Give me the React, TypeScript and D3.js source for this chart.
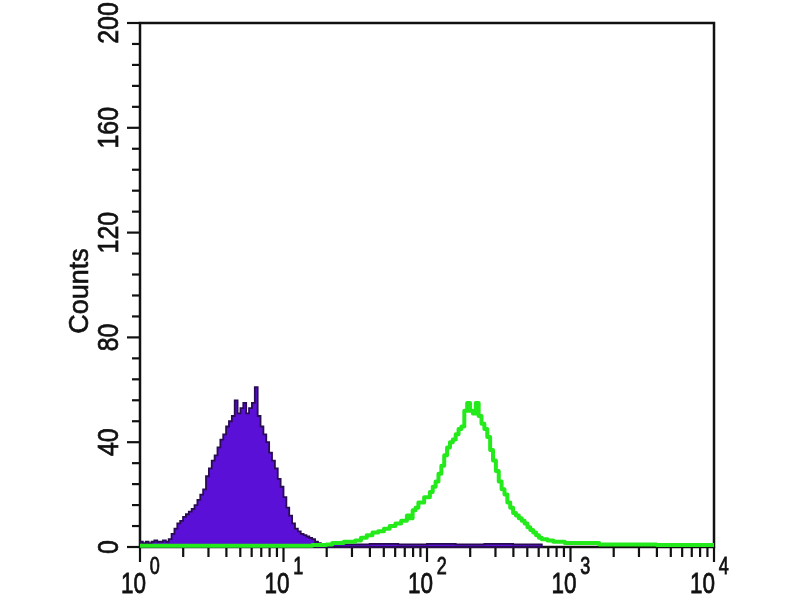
import { useEffect, useRef } from "react";
import * as d3 from "d3";

// fluorescence channel in decades (log10), bin start, with event counts
const controlDecade = [
  0.0, 0.02, 0.04, 0.06, 0.08, 0.1, 0.12, 0.14, 0.16, 0.18, 0.2, 0.22, 0.24,
  0.26, 0.28, 0.3, 0.32, 0.34, 0.36, 0.38, 0.4, 0.42, 0.44, 0.46, 0.48, 0.5,
  0.52, 0.54, 0.56, 0.58, 0.6, 0.62, 0.64, 0.66, 0.68, 0.7, 0.72, 0.74, 0.76,
  0.78, 0.8, 0.82, 0.84, 0.86, 0.88, 0.9, 0.92, 0.94, 0.96, 0.98, 1.0, 1.02,
  1.04, 1.06, 1.08, 1.1, 1.12, 1.14, 1.16, 1.18, 1.2, 1.22, 1.24, 1.26, 1.28,
  1.4, 1.6, 1.8, 2.0, 2.2, 2.4, 2.6, 2.8,
];
const controlCount = [
  2, 1.5, 2, 1.5, 2, 2.5, 2, 2, 2.5, 2, 3, 5, 7, 9, 10, 11.5, 12.5, 13.5, 14.5,
  16, 18, 20, 22, 27, 30, 33, 35, 38, 41, 43, 46, 48, 50, 56, 51, 53, 55, 51,
  53, 55, 61, 50, 46, 43, 40, 36, 33, 30, 26, 23, 19, 15, 12, 9, 7, 6, 5, 4.5,
  4, 3.5, 3, 2, 1.5, 1.2, 1, 1, 1.2, 1, 1.2, 1, 1.2, 1, 0,
];

const stainedDecade = [
  0.0, 0.2, 0.4, 0.6, 0.8, 1.0, 1.2, 1.3, 1.34, 1.38, 1.42, 1.46, 1.5, 1.54,
  1.58, 1.62, 1.66, 1.7, 1.74, 1.78, 1.82, 1.86, 1.88, 1.9, 1.92, 1.94, 1.96,
  1.98, 2.0, 2.02, 2.04, 2.06, 2.08, 2.1, 2.12, 2.14, 2.16, 2.18, 2.2, 2.22,
  2.24, 2.26, 2.28, 2.3, 2.32, 2.34, 2.36, 2.38, 2.4, 2.42, 2.44, 2.46, 2.48,
  2.5, 2.52, 2.54, 2.56, 2.58, 2.6, 2.62, 2.64, 2.66, 2.68, 2.7, 2.72, 2.74,
  2.76, 2.78, 2.8, 2.84, 2.88, 2.92, 2.96, 3.0, 3.1, 3.2, 3.4, 3.6, 3.8, 4.0,
];
const stainedCount = [
  0.5, 0.5, 0.5, 0.5, 0.5, 0.5, 0.8, 1, 1.5, 1.5, 2, 2, 2.5, 3.5, 4.5, 5.5, 6,
  7, 8, 9, 10, 12, 11, 14, 15, 17, 17, 19, 19, 21, 23, 25, 28, 31, 35, 38, 40,
  41, 43, 45, 46, 52, 55, 52, 51, 55, 50, 47, 45, 42, 37, 33, 29, 25, 22, 20,
  17, 15, 13, 12, 11, 10, 9, 7.5, 6.5, 5.5, 4.5, 3.5, 3, 2.5, 2, 2, 1.5, 1.5,
  1.5, 1, 1, 0.8, 0.8, 0.8,
];

const yMajorTicks = [0, 40, 80, 120, 160, 200];
const yMinorStep = 8;
const xDecades = [0, 1, 2, 3, 4];

export default function App() {
  const svgRef = useRef(null);

  useEffect(() => {
    const svg = d3.select(svgRef.current);
    svg.selectAll("*").remove();

    const width = 800;
    const height = 600;
    const left = 140;
    const right = 714;
    const top = 23;
    const bottom = 547;

    svg.attr("width", width).attr("height", height);

    const x = d3.scaleLog().domain([1, 10000]).range([left, right]);
    const y = d3.scaleLinear().domain([0, 200]).range([bottom, top]);

    const font = "'Liberation Sans', Arial, sans-serif";
    const ink = "#111";

    // frame
    svg
      .append("rect")
      .attr("x", left)
      .attr("y", top)
      .attr("width", right - left)
      .attr("height", bottom - top)
      .attr("fill", "white")
      .attr("stroke", ink)
      .attr("stroke-width", 2.5);

    // y ticks
    const yMinor = d3.range(0, 201, yMinorStep);
    svg
      .append("g")
      .selectAll("line")
      .data(yMinor)
      .enter()
      .append("line")
      .attr("x1", (d) => (yMajorTicks.includes(d) ? left - 13 : left - 8))
      .attr("x2", left)
      .attr("y1", (d) => y(d))
      .attr("y2", (d) => y(d))
      .attr("stroke", ink)
      .attr("stroke-width", 2.2);

    svg
      .append("g")
      .selectAll("text")
      .data(yMajorTicks)
      .enter()
      .append("text")
      .attr(
        "transform",
        (d) => `translate(118, ${y(d)}) rotate(-90) scale(0.86, 1)`
      )
      .attr("text-anchor", "middle")
      .attr("font-family", font)
      .attr("font-size", 29)
      .attr("fill", ink)
      .attr("stroke", ink)
      .attr("stroke-width", 0.7)
      .text((d) => d);

    svg
      .append("text")
      .attr("transform", `translate(88, 291) rotate(-90)`)
      .attr("text-anchor", "middle")
      .attr("font-family", font)
      .attr("font-size", 27)
      .attr("fill", ink)
      .attr("stroke", ink)
      .attr("stroke-width", 0.6)
      .text("Counts");

    // x ticks (decades + 2..9)
    const xTicks = x.ticks();
    svg
      .append("g")
      .selectAll("line")
      .data(xTicks)
      .enter()
      .append("line")
      .attr("x1", (d) => x(d))
      .attr("x2", (d) => x(d))
      .attr("y1", bottom)
      .attr("y2", (d) =>
        Math.abs(Math.log10(d) % 1) < 1e-9 ? bottom + 15 : bottom + 10
      )
      .attr("stroke", ink)
      .attr("stroke-width", 2.2);

    const xLabels = svg
      .append("g")
      .selectAll("g")
      .data(xDecades)
      .enter()
      .append("g")
      .attr(
        "transform",
        (d, i) =>
          `translate(${x(Math.pow(10, d)) + (i === xDecades.length - 1 ? 1 : 6)}, 593) scale(0.75, 1)`
      )
      .attr("font-family", font)
      .attr("fill", ink)
      .attr("stroke", ink)
      .attr("stroke-width", 0.8);

    xLabels
      .append("text")
      .attr("text-anchor", "end")
      .attr("font-size", 30)
      .text("10");

    xLabels
      .append("text")
      .attr("x", 5)
      .attr("y", -19)
      .attr("font-size", 24)
      .text((d) => d);

    // histograms
    const control = controlDecade.map((d, i) => ({
      v: Math.pow(10, d),
      c: controlCount[i],
    }));
    const stained = stainedDecade.map((d, i) => ({
      v: Math.pow(10, d),
      c: stainedCount[i],
    }));

    const area = d3
      .area()
      .x((d) => x(d.v))
      .y0(y(0))
      .y1((d) => y(d.c))
      .curve(d3.curveStepAfter);

    svg
      .append("path")
      .datum(control)
      .attr("d", area)
      .attr("fill", "#5a10d6")
      .attr("stroke", "#2a0c52")
      .attr("stroke-width", 1.8);

    const line = d3
      .line()
      .x((d) => x(d.v))
      .y((d) => y(d.c))
      .curve(d3.curveStepAfter);

    svg
      .append("path")
      .datum(stained)
      .attr("d", line)
      .attr("fill", "none")
      .attr("stroke", "#24ea1c")
      .attr("stroke-width", 4)
      .attr("stroke-linejoin", "round");
  }, []);

  return (
    <div style={{ position: "fixed", left: 0, top: 0 }}>
      <svg ref={svgRef} style={{ display: "block" }}></svg>
    </div>
  );
}
